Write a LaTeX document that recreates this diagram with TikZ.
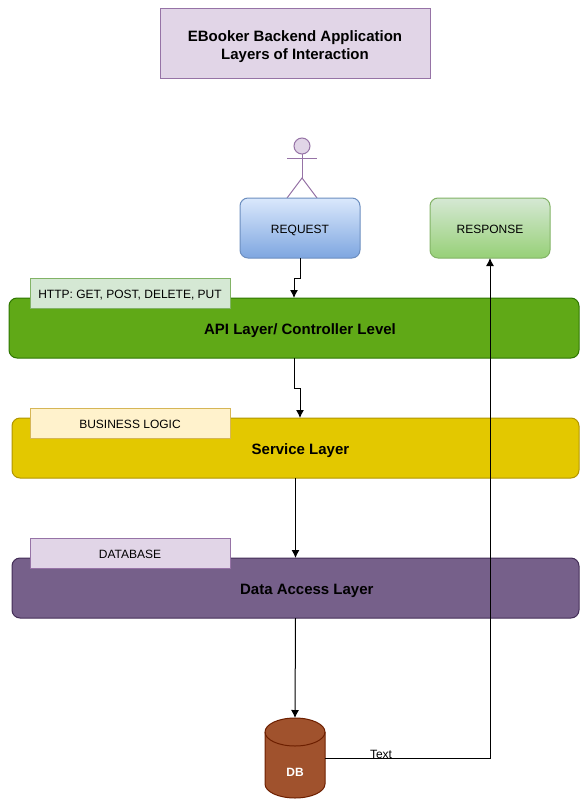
\documentclass[tikz,border=0pt]{standalone}
\usepackage{fontspec}
\setmainfont{Liberation Sans}
\usetikzlibrary{arrows.meta}
\definecolor{titlefill}{HTML}{E1D5E7}
\definecolor{titleline}{HTML}{9673A6}
\definecolor{reqtop}{HTML}{DAE8FC}
\definecolor{reqbot}{HTML}{7EA6E0}
\definecolor{reqline}{HTML}{6C8EBF}
\definecolor{resptop}{HTML}{D5E8D4}
\definecolor{respbot}{HTML}{97D077}
\definecolor{respline}{HTML}{82B366}
\definecolor{apifill}{HTML}{60A917}
\definecolor{apiline}{HTML}{2D7600}
\definecolor{servfill}{HTML}{E3C800}
\definecolor{servline}{HTML}{B09500}
\definecolor{dalfill}{HTML}{76608A}
\definecolor{dalline}{HTML}{432D57}
\definecolor{bizfill}{HTML}{FFF2CC}
\definecolor{bizline}{HTML}{D6B656}
\definecolor{dbfill}{HTML}{A0522D}
\definecolor{dbline}{HTML}{6D1F00}
\tikzset{
  boxbase/.style={draw, line width=.75pt, inner sep=0pt, outer sep=0pt, align=center},
  endbox/.style={boxbase, rounded corners=6pt, minimum width=90pt, minimum height=45pt, text height=8pt, text depth=0pt, font=\fontsize{9}{11}\selectfont},
  layerbox/.style={boxbase, rounded corners=6pt, minimum height=45pt, text height=10pt, text depth=0pt, font=\fontsize{11.25}{13.5}\selectfont\bfseries},
  tagbox/.style={boxbase, minimum width=150pt, minimum height=22.5pt, text height=8pt, text depth=0pt, font=\fontsize{9}{11}\selectfont},
  actorline/.style={draw=titleline, line width=.75pt},
  conn/.style={-{Latex[length=6pt,width=6pt]}, line width=.75pt}
}
\begin{document}
\begin{tikzpicture}[x=.75pt, y=-.75pt]
\useasboundingbox (0,0) rectangle (587,807);

\node[boxbase, fill=titlefill, draw=titleline, minimum width=202.5pt, minimum height=52pt,
  font=\fontsize{11.25}{13.5}\selectfont\bfseries] (title) at (295,43.5) {\rule{0pt}{13pt}EBooker Backend Application\\Layers of Interaction};

% actor
\node[circle, actorline, fill=titlefill, minimum size=12pt, inner sep=0pt, outer sep=0pt] (head) at (302,146) {};
\coordinate (hip) at (302,178);
\draw[actorline] (head.south)--(hip);
\draw[actorline] (287,158)--(317,158);
\draw[actorline] (287,198)--(hip)--(317,198);

\node[endbox, draw=reqline, top color=reqtop, bottom color=reqbot] (request) at (300,228) {REQUEST};
\node[endbox, draw=respline, top color=resptop, bottom color=respbot] (response) at (490,228) {RESPONSE};

\node[layerbox, fill=apifill, draw=apiline, minimum width=427.5pt] (api) at (294,328) {\hspace*{9pt}API Layer/ Controller Level};
\node[layerbox, fill=servfill, draw=servline, minimum width=425.25pt] (service) at (295.5,448) {\hspace*{7.5pt}Service Layer};
\node[layerbox, fill=dalfill, draw=dalline, minimum width=425.25pt] (dal) at (295.5,588) {\hspace*{17pt}Data Access Layer};

\node[tagbox, fill=resptop, draw=respline] (http) at (130,293) {HTTP: GET, POST, DELETE, PUT};
\node[tagbox, fill=bizfill, draw=bizline] (business) at (130,423) {BUSINESS LOGIC};
\node[tagbox, fill=titlefill, draw=titleline] (database) at (130,553) {DATABASE};

% database drum
\node[minimum width=45pt, minimum height=60pt, inner sep=0pt, outer sep=0pt] (db) at (295,758) {};
\draw[draw=dbline, fill=dbfill, line width=.75pt] (db.north west) ++(0,14) -- ++(0,52)
  arc[start angle=180, end angle=0, x radius=30, y radius=14] -- ++(0,-52)
  arc[start angle=0, end angle=-180, x radius=30, y radius=14] -- cycle;
\draw[draw=dbline, line width=.75pt] (db.north west) ++(0,14)
  arc[start angle=180, end angle=0, x radius=30, y radius=14];
\node[text=white, font=\fontsize{9}{11}\selectfont\bfseries] (dblabel) at (295,772) {DB};

\coordinate (serviceIn) at (300,418);
\draw[conn] (request.south)-- ++(0,20) -| (api.north);
\draw[conn] (api.south)-- ++(0,30) -| (serviceIn);
\draw[conn] (service.south)--(dal.north);
\draw[conn] (dal.south)--(db.north);
\draw[conn] (db.east) -| (response.south);
\node[font=\fontsize{9}{11}\selectfont, inner sep=0pt] (linktext) at (381,754) {Text};
\end{tikzpicture}
\end{document}
